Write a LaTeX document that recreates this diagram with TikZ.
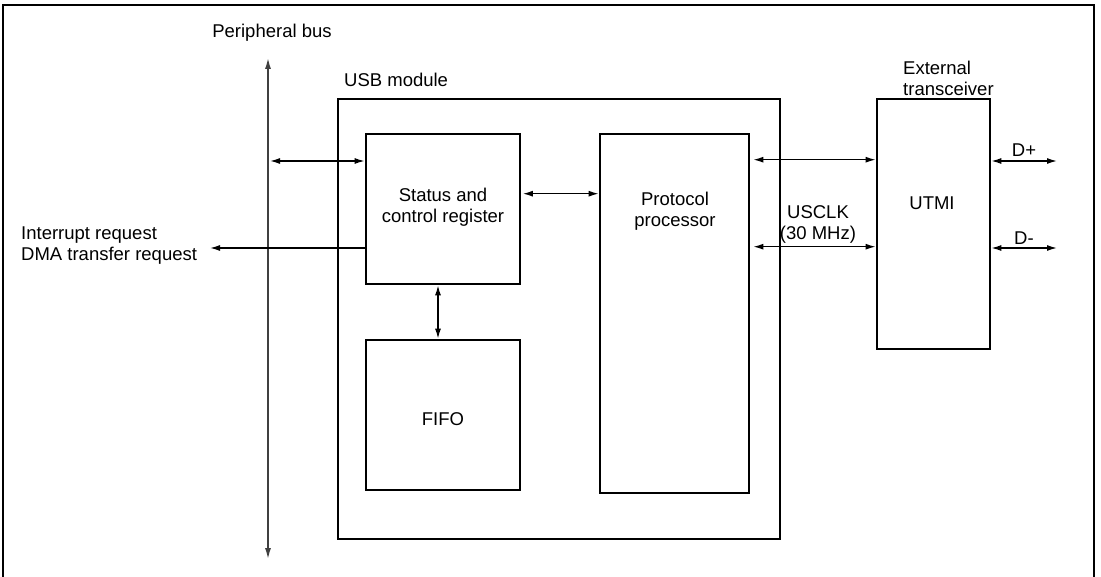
\documentclass[tikz,border=0pt]{standalone}
\usepackage{fontspec}
\setmainfont{Liberation Sans}
\usetikzlibrary{arrows.meta,calc}
\begin{document}
\begin{tikzpicture}[x=1pt,y=-1pt,
  every node/.style={font=\fontsize{18.5}{21}\selectfont},
  blockbox/.style={draw,line width=2.6pt,inner sep=0pt},
  txt/.style={inner sep=0pt,align=center},
  conn/.style={line width=1.4pt,{Latex[length=10pt,width=6pt]}-{Latex[length=10pt,width=6pt]}},
  oneway/.style={line width=1.4pt,-{Latex[length=10pt,width=6pt]}},
  busline/.style={line width=2pt,draw=black!75,{Latex[length=12pt,width=6pt]}-{Latex[length=12pt,width=6pt]}}]
\useasboundingbox (0,0) rectangle (1101,577);
% outer frame
\draw[line width=2.6pt] (3,578) -- (3,5) -- (1094,5) -- (1094,578);

% blocks
\node[blockbox,minimum width=442pt,minimum height=440pt] (usb) at (559,319) {};
\node[blockbox,minimum width=154pt,minimum height=150pt] (scr) at (443,209) {};
\node[blockbox,minimum width=154pt,minimum height=150pt] (fifo) at (443,415) {};
\node[blockbox,minimum width=149pt,minimum height=359pt] (proto) at (674.5,313.5) {};
\node[blockbox,minimum width=113pt,minimum height=250pt] (utmi) at (933.5,224) {};

% texts
\node[txt] (tscr) at (443,207) {Status and\\control register};
\node[txt] (tfifo) at (443,419) {FIFO};
\node[txt] (tproto) at (675,211) {Protocol\\processor};
\node[txt] (tutmi) at (932,203) {UTMI};
\node[txt,anchor=west] (tusb) at (344,80) {USB module};
\node[txt,align=left,anchor=west] (text) at (903,78) {External\\transceiver};
\node[txt] (tbus) at (272,33) {Peripheral bus};
\node[txt,align=left,anchor=west] (tirq) at (21,246) {Interrupt request\\DMA transfer request};
\node[txt] (tclk) at (818,224) {USCLK\\(30 MHz)};
\node[txt] (tdp) at (1024,150) {D+};
\node[txt] (tdm) at (1024,238) {D-};

% peripheral bus
\coordinate (busT) at (268,57);
\coordinate (busB) at (268,560);
\draw[busline] (busT) -- (busB);

% connectors
\coordinate (busA) at (270,161);
\draw[conn] (busA) -- (busA -| scr.west);
\coordinate (irq) at (210,248);
\draw[oneway] (irq -| scr.west) -- (irq);
\draw[conn] ($(scr.north east)+(1.5,61)$) -- ($(proto.north west)+(0,61)$);
\draw[conn] ($(scr.south)+(-5,0)$) -- ($(fifo.north)+(-5,0)$);
\draw[conn] ($(proto.north east)+(3,27)$) -- ($(utmi.north west)+(0,62)$);
\draw[conn] ($(proto.north east)+(3,114)$) -- ($(utmi.north west)+(0,149)$);
\coordinate (dp) at (1057,161);
\coordinate (dm) at (1057,248);
\draw[conn] (dp -| utmi.east) -- (dp);
\draw[conn] (dm -| utmi.east) -- (dm);
\end{tikzpicture}
\end{document}
